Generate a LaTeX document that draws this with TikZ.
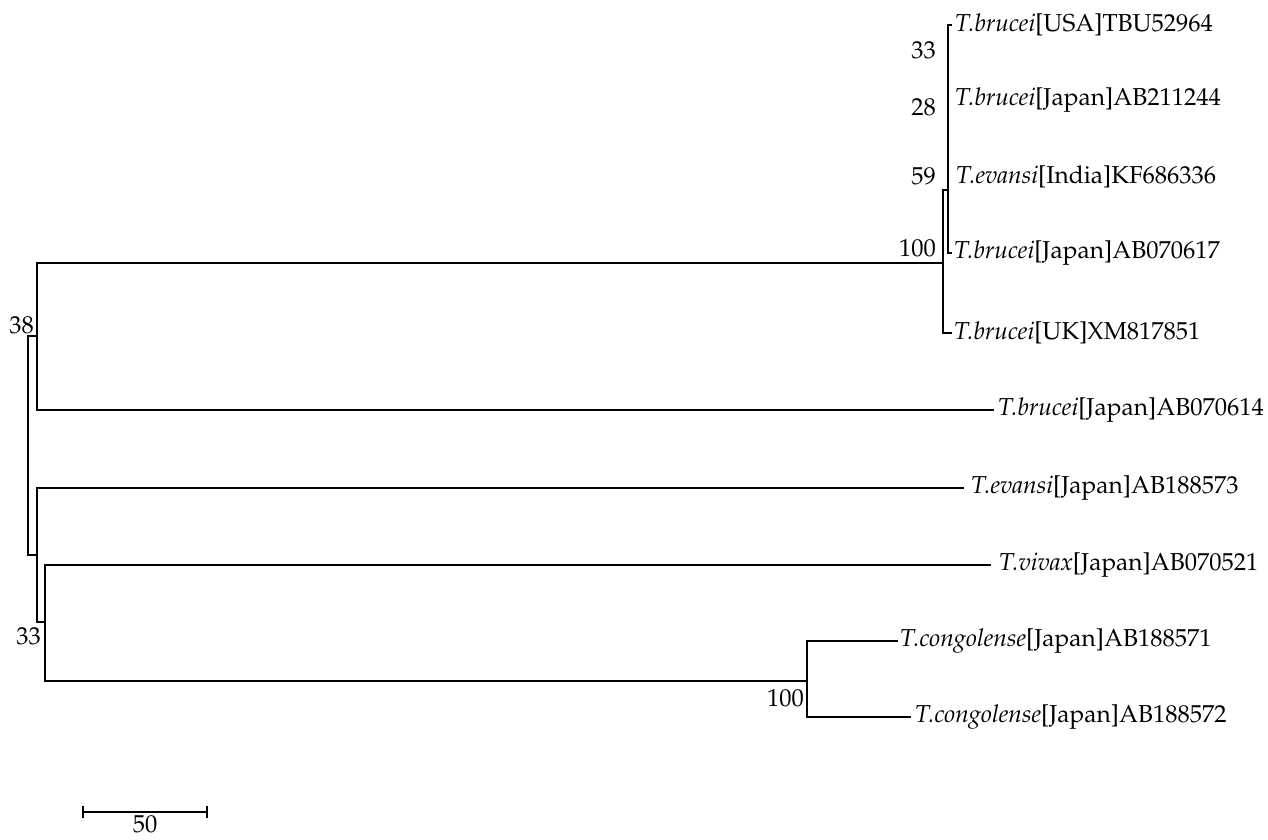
\documentclass[tikz,border=0pt]{standalone}
\usepackage[T1]{fontenc}
\usepackage{mathpazo}
\usetikzlibrary{calc}
\begin{document}
\begin{tikzpicture}[x=1pt,y=-1pt,
  br/.style={line width=1.4pt,line cap=rect},
  tip/.style={anchor=west,inner sep=0pt,font=\fontsize{24.5}{28}\selectfont},
  boot/.style={anchor=east,inner sep=0pt,font=\fontsize{24.5}{28}\selectfont}]
\useasboundingbox (0,0) rectangle (1268,839);
% internal nodes
\coordinate (root) at (28,445);
\coordinate (n38) at (37,336);
\coordinate (nA) at (943,263);
\coordinate (n59) at (948,190);
\coordinate (n28) at (948,120);
\coordinate (n33) at (948,62);
\coordinate (nB) at (37,555);
\coordinate (n33b) at (45,622);
\coordinate (nC) at (807,681);
% tips
\coordinate (tUSA) at (951,25);
\coordinate (tJ211) at (948,100);
\coordinate (tInd) at (948,177);
\coordinate (tJ617) at (951,253);
\coordinate (tUK) at (951,333);
\coordinate (tJ614) at (993,410);
\coordinate (tE573) at (963,488);
\coordinate (tViv) at (990,565);
\coordinate (tC571) at (897,641);
\coordinate (tC572) at (910,717);
% labels
\node[tip] (lUSA) at ([xshift=4pt]tUSA) {\textit{T.brucei}[USA]TBU52964};
\node[tip] (lJ211) at ([xshift=7pt]tJ211) {\textit{T.brucei}[Japan]AB211244};
\node[tip] (lInd) at ([xshift=8pt]tInd) {\textit{T.evansi}[India]KF686336};
\node[tip] (lJ617) at ([xshift=3pt]tJ617) {\textit{T.brucei}[Japan]AB070617};
\node[tip] (lUK) at ([xshift=3pt]tUK) {\textit{T.brucei}[UK]XM817851};
\node[tip] (lJ614) at ([xshift=5pt]tJ614) {\textit{T.brucei}[Japan]AB070614};
\node[tip] (lE573) at ([xshift=8pt]tE573) {\textit{T.evansi}[Japan]AB188573};
\node[tip] (lViv) at ([xshift=9pt]tViv) {\textit{T.vivax}[Japan]AB070521};
\node[tip] (lC571) at ([xshift=3pt]tC571) {\textit{T.congolense}[Japan]AB188571};
\node[tip] (lC572) at ([xshift=5pt]tC572) {\textit{T.congolense}[Japan]AB188572};
% bootstrap values
\node[boot] (b33) at (936,50) {33};
\node[boot] (b28) at (936,107) {28};
\node[boot] (b59) at (936,176) {59};
\node[boot] (b100a) at (936,248) {100};
\node[boot] (b38) at (34,325) {38};
\node[boot] (b33b) at (41,636) {33};
\node[boot] (b100c) at (804,698) {100};
% branches
\draw[br] (root) |- (n38);
\draw[br] (root) |- (nB);
\draw[br] (n38) |- (nA);
\draw[br] (n38) |- (tJ614);
\draw[br] (nA) |- (n59);
\draw[br] (nA) |- (tUK);
\draw[br] (n59) |- (n28);
\draw[br] (n59) |- (tJ617);
\draw[br] (n28) |- (n33);
\draw[br] (n28) |- (tInd);
\draw[br] (n33) |- (tUSA);
\draw[br] (n33) |- (tJ211);
\draw[br] (nB) |- (tE573);
\draw[br] (nB) |- (n33b);
\draw[br] (n33b) |- (tViv);
\draw[br] (n33b) |- (nC);
\draw[br] (nC) |- (tC571);
\draw[br] (nC) |- (tC572);
% scale bar
\coordinate (sL) at (83,812);
\coordinate (sR) at (207,812);
\draw[br,line cap=butt] (sL) -- (sR);
\draw[br,line cap=butt] ([yshift=-6pt]sL) -- ([yshift=6pt]sL);
\draw[br,line cap=butt] ([yshift=-6pt]sR) -- ([yshift=6pt]sR);
\node[anchor=north,inner sep=0pt,font=\fontsize{24.5}{28}\selectfont] (s50) at ($(sL)!0.5!(sR)+(0,3)$) {50};
\end{tikzpicture}
\end{document}
